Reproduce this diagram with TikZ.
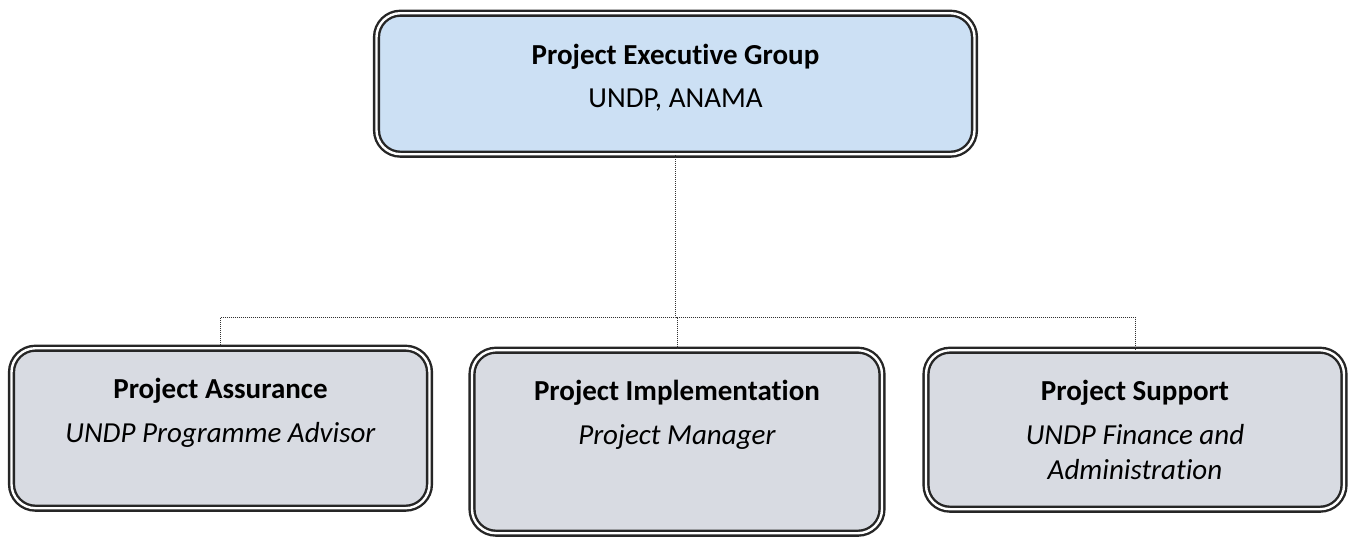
\documentclass[tikz,border=0pt]{standalone}
\usepackage{fontspec}
\setmainfont{Carlito}[Ligatures=NoCommon]
\usetikzlibrary{positioning}

\definecolor{execblue}{RGB}{204,224,244}
\definecolor{unitgray}{RGB}{216,219,226}

% box text: width, height, top gap, lines
\newcommand{\boxlines}[4]{\parbox[c][#2][t]{#1}{\centering\vspace*{#3}#4}}

\begin{document}
\begin{tikzpicture}[x=1pt,y=-1pt]
  \useasboundingbox (0,0) rectangle (1349,538);
  \tikzset{
    orgbox/.style={draw=black!85, double, line width=2.4pt, double distance=2.4pt,
      rounded corners=24pt, inner sep=0pt, anchor=north},
    link/.style={draw=black!80, line width=1pt, dash pattern=on 1pt off 1pt}
  }
  \fontsize{29}{35}\selectfont

  % Executive group on top
  \node[orgbox, fill=execblue] (peg) at (675.5,12)
    {\boxlines{598pt}{141pt}{31pt}{\textbf{Project Executive Group}\\[8pt]UNDP, ANAMA}};

  % Three units below
  \node[orgbox, fill=unitgray] (assure) at (220.5,347)
    {\boxlines{418pt}{160pt}{30pt}{\textbf{Project Assurance}\\[9pt]\textit{UNDP Programme Advisor}}};
  \node[orgbox, fill=unitgray] (impl) at (677,349)
    {\boxlines{410pt}{183pt}{30pt}{\textbf{Project Implementation}\\[9pt]\textit{Project Manager}}};
  \node[orgbox, fill=unitgray] (support) at (1135,349)
    {\boxlines{418pt}{159pt}{30pt}{\textbf{Project Support}\\[9pt]\textit{UNDP Finance and}\\\textit{Administration}}};

  % Dotted connectors
  \coordinate (bus) at (675.5,317);
  \draw[link] (peg.south) -- (bus);
  \draw[link] (assure.north) |- (bus) -| (support.north);
  \draw[link] (bus) -| (impl.north);
\end{tikzpicture}
\end{document}
